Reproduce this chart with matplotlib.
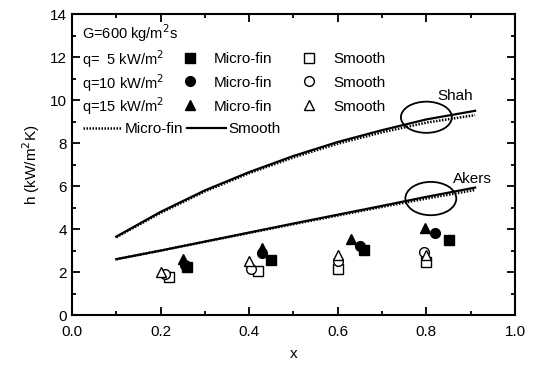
import matplotlib.pyplot as plt
import numpy as np
from matplotlib.patches import Ellipse
from matplotlib.lines import Line2D

plt.rcParams['font.family'] = ['Liberation Sans', 'DejaVu Sans']

# measured points: (x, h) for each heat flux
mf_5_x = [0.26, 0.45, 0.66, 0.85]
mf_5_h = [2.25, 2.57, 3.05, 3.5]
mf_10_x = [0.255, 0.43, 0.65, 0.82]
mf_10_h = [2.35, 2.9, 3.2, 3.8]
mf_15_x = [0.25, 0.43, 0.63, 0.797]
mf_15_h = [2.6, 3.1, 3.55, 4.05]
sm_5_x = [0.22, 0.42, 0.60, 0.80]
sm_5_h = [1.75, 2.05, 2.15, 2.45]
sm_10_x = [0.21, 0.405, 0.60, 0.795]
sm_10_h = [1.9, 2.15, 2.5, 2.95]
sm_15_x = [0.20, 0.40, 0.60, 0.80]
sm_15_h = [2.02, 2.5, 2.8, 2.8]

# correlations
corr_x = [0.1, 0.2, 0.3, 0.4, 0.5, 0.6, 0.7, 0.8, 0.91]
shah_sm = [3.65, 4.8, 5.8, 6.65, 7.4, 8.05, 8.6, 9.1, 9.5]
shah_mf = [3.62, 4.75, 5.75, 6.6, 7.33, 7.97, 8.5, 8.95, 9.3]
akers_sm = [2.6, 3.0, 3.42, 3.84, 4.26, 4.67, 5.08, 5.5, 5.93]
akers_mf = [2.6, 3.0, 3.41, 3.82, 4.23, 4.63, 5.03, 5.42, 5.82]

q_labels = ['q=  5 kW/m$^2$', 'q=10 kW/m$^2$', 'q=15 kW/m$^2$']
row_y = [11.9, 10.8, 9.7]

fig = plt.figure(figsize=(5.37, 3.69), dpi=100)
ax = fig.add_axes([0.134, 0.146, 0.825, 0.816])

dot = (0, (0.6, 0.6))
ax.plot(corr_x, shah_mf, color='black', lw=1.8, ls=dot)
ax.plot(corr_x, shah_sm, color='black', lw=1.6)
ax.plot(corr_x, akers_mf, color='black', lw=1.8, ls=dot)
ax.plot(corr_x, akers_sm, color='black', lw=1.6)

ms = 7
h_mf5, = ax.plot(mf_5_x, mf_5_h, 's', color='black', ms=ms, ls='none')
h_mf10, = ax.plot(mf_10_x, mf_10_h, 'o', color='black', ms=ms, ls='none')
h_mf15, = ax.plot(mf_15_x, mf_15_h, '^', color='black', ms=ms, ls='none')
h_sm5, = ax.plot(sm_5_x, sm_5_h, 's', mfc='white', mec='black', ms=ms, ls='none')
h_sm10, = ax.plot(sm_10_x, sm_10_h, 'o', mfc='white', mec='black', ms=ms, ls='none')
h_sm15, = ax.plot(sm_15_x, sm_15_h, '^', mfc='white', mec='black', ms=ms, ls='none')

ax.add_patch(Ellipse((0.80, 9.2), 0.115, 1.45, fill=False, lw=1.3, color='black'))
ax.add_patch(Ellipse((0.81, 5.42), 0.115, 1.55, fill=False, lw=1.3, color='black'))
ax.text(0.865, 10.2, 'Shah', fontsize=11, ha='center', va='center')
ax.text(0.905, 6.35, 'Akers', fontsize=11, ha='center', va='center')

ax.set_xlim(0, 1.0)
ax.set_ylim(0, 14)
ax.set_xticks(np.arange(0, 1.01, 0.2))
ax.set_xticks(np.arange(0, 1.01, 0.1), minor=True)
ax.set_yticks(np.arange(0, 14.1, 2))
ax.set_yticks(np.arange(0, 14.1, 1), minor=True)
ax.tick_params(which='both', direction='in', top=True, right=True, labelsize=11, width=1.3)
ax.tick_params(which='major', length=6)
ax.tick_params(which='minor', length=3)
ax.tick_params(axis='x', pad=7)
for s in ax.spines.values():
    s.set_linewidth(1.5)
ax.set_xlabel('x', fontsize=11, labelpad=6)
ax.set_ylabel('h (kW/m$^2$K)', fontsize=11, labelpad=6)

ax.text(0.022, 13.1, 'G=600 kg/m$^2$s', fontsize=10.5, va='center')

rows = [(h_mf5, h_sm5), (h_mf10, h_sm10), (h_mf15, h_sm15)]
for (hf, ho), lab, yy in zip(rows, q_labels, row_y):
    ax.text(0.022, yy, lab, fontsize=10.5, va='center')
    leg = ax.legend([hf, ho], ['Micro-fin', 'Smooth'], ncol=2, loc='center left',
                    bbox_to_anchor=(0.252, yy), bbox_transform=ax.transData,
                    frameon=False, fontsize=11, handlelength=0.8, handletextpad=1.2,
                    columnspacing=2.0, borderpad=0, borderaxespad=0)
    ax.add_artist(leg)

l_mf = Line2D([], [], color='black', lw=1.8, ls=dot)
l_sm = Line2D([], [], color='black', lw=1.6)
ax.legend([l_mf, l_sm], ['Micro-fin', 'Smooth'], ncol=2, loc='center left',
          bbox_to_anchor=(0.025, 8.64), bbox_transform=ax.transData,
          frameon=False, fontsize=11, handlelength=2.5, handletextpad=0.2,
          columnspacing=0.3, borderpad=0, borderaxespad=0)

fig.savefig('out.png', dpi=100)
